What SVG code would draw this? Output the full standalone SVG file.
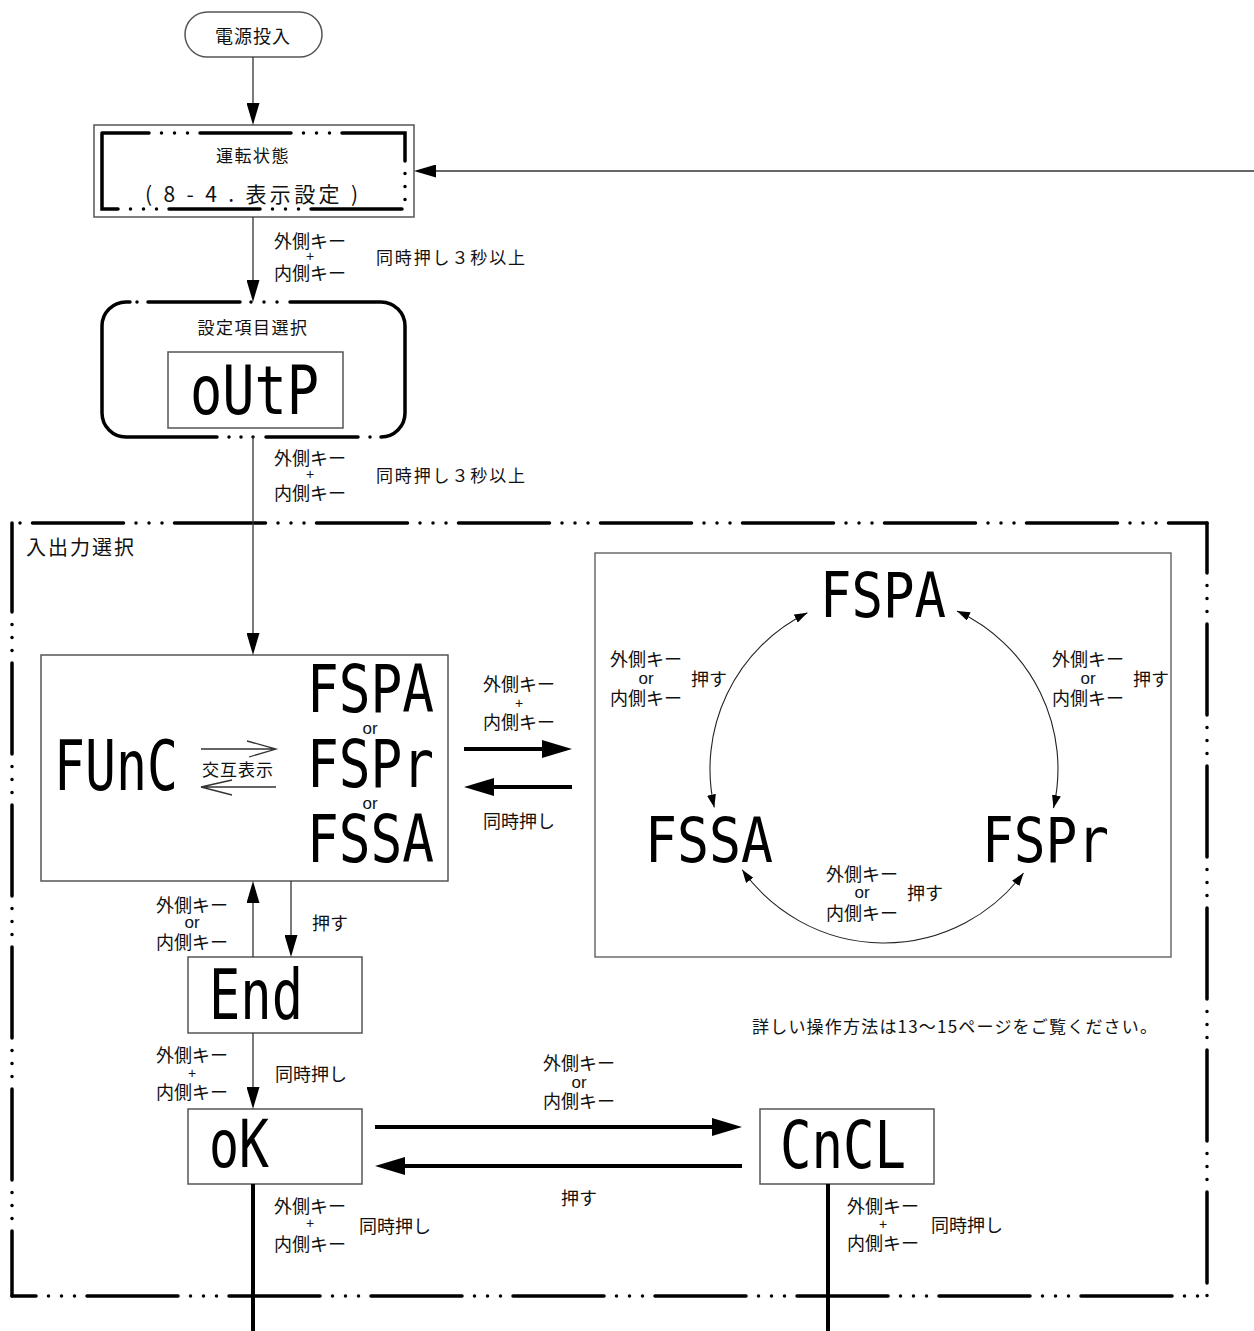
<svg xmlns="http://www.w3.org/2000/svg" width="1254" height="1331" viewBox="0 0 1254 1331">
<style>
text{font-family:"Noto Sans CJK JP","Noto Sans",sans-serif;fill:#111}
.lbl{font-size:18px;text-anchor:middle;dominant-baseline:central}
.pl{font-size:14px;text-anchor:middle;dominant-baseline:central;font-family:"Liberation Sans",sans-serif}
.or{font-size:17px;text-anchor:middle;dominant-baseline:central;font-family:"Liberation Sans",sans-serif}
.seg{font-family:"DejaVu Sans Mono",monospace;fill:#000}
.box{fill:#fff;stroke:#555;stroke-width:1.5}
.thin{fill:none;stroke:#333;stroke-width:1.3}
.thick{fill:none;stroke:#000;stroke-width:4}
.dd{fill:none;stroke:#000;stroke-width:3.5;stroke-linecap:round;stroke-dasharray:91 12.5 0 13 0 13 0 12.5}
.solid{fill:none;stroke:#000;stroke-width:3.5;stroke-linecap:round}
.arc{fill:none;stroke:#222;stroke-width:1.1;marker-start:url(#sa);marker-end:url(#sa)}
</style>
<defs>
<marker id="ta" markerUnits="userSpaceOnUse" viewBox="0 0 22 13" markerWidth="22" markerHeight="13" refX="0" refY="6.5" orient="auto"><path d="M0,0 L22,6.5 L0,13 Z" fill="#000"/></marker>
<marker id="ka" markerUnits="userSpaceOnUse" viewBox="0 0 30 18" markerWidth="30" markerHeight="18" refX="0" refY="9" orient="auto"><path d="M0,0 L30,9 L0,18 Z" fill="#000"/></marker>
<marker id="sa" markerUnits="userSpaceOnUse" viewBox="0 0 13 9" markerWidth="13" markerHeight="9" refX="13" refY="4.5" orient="auto-start-reverse"><path d="M0,0 L13,4.5 L0,9 Z" fill="#000"/></marker>
</defs>
<rect width="1254" height="1331" fill="#fff"/>

<g id="frame">
<path class="dd" d="M12,523 V1296" stroke-dashoffset="2"/>
<path class="dd" d="M12,523 H1207" stroke-dashoffset="121.5"/>
<path class="dd" d="M1207,523 V1296" stroke-dashoffset="41"/>
<path class="dd" d="M12,1296 H1207" stroke-dashoffset="67"/>
<text x="26" y="546" font-size="20" letter-spacing="2" dominant-baseline="central">入出力選択</text>
</g>

<g id="n-start">
<rect x="185" y="12" width="137" height="45" rx="22.5" class="box" stroke="#333"/>
<text x="253" y="35" font-size="18" letter-spacing="1" text-anchor="middle" dominant-baseline="central">電源投入</text>
</g>

<g id="n-run">
<rect x="94" y="125" width="320" height="92" class="box"/>
<path class="dd" d="M102,133 H405 V209 H102 Z" stroke-dashoffset="44"/>
<text x="253" y="154" font-size="17" letter-spacing="1.5" text-anchor="middle" dominant-baseline="central">運転状態</text>
<text x="145" y="193" font-size="21" textLength="213" dominant-baseline="central">( 8 - 4 . 表示設定 )</text>
</g>

<g id="n-select">
<path class="solid" d="M130,302 H126 A24,24 0 0 0 102,326 V413 A24,24 0 0 0 126,437 H217"/>
<path class="solid" d="M229,437 l0.01,0 M241,437 l0.01,0 M253,437 l0.01,0 M266,437 H358 M370,437 l0.01,0"/>
<path class="solid" d="M381,437 A24,24 0 0 0 405,413 V326 A24,24 0 0 0 381,302 H290"/>
<path class="solid" d="M277,302 l0.01,0 M264,302 l0.01,0 M251,302 l0.01,0 M240,302 H148 M137,302 l0.01,0"/>
<text x="253" y="326" font-size="17" letter-spacing="1.5" text-anchor="middle" dominant-baseline="central">設定項目選択</text>
<rect x="168" y="352" width="175" height="76" class="box" stroke-width="1.3"/>
<text class="seg" x="190" y="414" font-size="67" textLength="129" lengthAdjust="spacingAndGlyphs">oUtP</text>
</g>

<g id="n-func">
<rect x="41" y="655" width="407" height="226" class="box"/>
<text class="seg" x="54" y="790" font-size="70" textLength="124" lengthAdjust="spacingAndGlyphs">FUnC</text>
<path class="thin" d="M201,749 H276 M247,741 L276,749 L249,757 M201,787 H276 M232,780 L201,787 L232,795" stroke="#111"/>
<text x="238" y="768" font-size="17" letter-spacing="1" text-anchor="middle" dominant-baseline="central">交互表示</text>
<text class="seg" x="307" y="712" font-size="66" textLength="127" lengthAdjust="spacingAndGlyphs">FSPA</text>
<text class="or" x="370" y="728">or</text>
<text class="seg" x="307" y="787" font-size="66" textLength="127" lengthAdjust="spacingAndGlyphs">FSPr</text>
<text class="or" x="370" y="803">or</text>
<text class="seg" x="307" y="862" font-size="66" textLength="127" lengthAdjust="spacingAndGlyphs">FSSA</text>
</g>

<g id="n-cycle">
<rect x="595" y="553" width="576" height="404" fill="none" stroke="#555" stroke-width="1.3"/>
<text class="seg" x="820" y="617" font-size="62" textLength="126" lengthAdjust="spacingAndGlyphs">FSPA</text>
<text class="seg" x="645" y="862" font-size="62" textLength="128" lengthAdjust="spacingAndGlyphs">FSSA</text>
<text class="seg" x="982" y="862" font-size="62" textLength="127" lengthAdjust="spacingAndGlyphs">FSPr</text>
</g>

<g id="n-end">
<rect x="188" y="957" width="174" height="76" class="box"/>
<text class="seg" x="209" y="1019" font-size="70" textLength="94" lengthAdjust="spacingAndGlyphs">End</text>
</g>

<g id="n-ok">
<rect x="188" y="1109" width="174" height="75" class="box"/>
<text class="seg" x="209" y="1167" font-size="66" textLength="60" lengthAdjust="spacingAndGlyphs">oK</text>
</g>

<g id="n-cncl">
<rect x="760" y="1109" width="174" height="75" class="box"/>
<text class="seg" x="780" y="1168" font-size="66" textLength="126" lengthAdjust="spacingAndGlyphs">CnCL</text>
</g>

<g id="connectors">
<path class="thin" d="M253,57 V103" marker-end="url(#ta)"/>
<path class="thin" d="M253,217 V280" marker-end="url(#ta)"/>
<path class="thin" d="M253,437 V633" marker-end="url(#ta)"/>
<path class="thin" d="M1254,171 H436" marker-end="url(#ta)"/>
<path class="thin" d="M291,881 V935" marker-end="url(#ta)"/>
<path class="thin" d="M253,957 V903" marker-end="url(#ta)"/>
<path class="thin" d="M253,1033 V1087" marker-end="url(#ta)"/>
<path class="thick" d="M464,749 H542" marker-end="url(#ka)"/>
<path class="thick" d="M572,787 H494" marker-end="url(#ka)"/>
<path class="thick" d="M375,1127 H712" marker-end="url(#ka)"/>
<path class="thick" d="M742,1166 H405" marker-end="url(#ka)"/>
<path class="thick" d="M253,1184 V1331" stroke-width="3.5"/>
<path class="thick" d="M828,1184 V1331" stroke-width="3.5"/>
<path class="arc" d="M807.4,612.8 A174,174 0 0 0 714.3,807.5"/>
<path class="arc" d="M957,611 A174,174 0 0 1 1053.5,808.1"/>
<path class="arc" d="M742.2,869.8 A174,174 0 0 0 1023.5,873"/>
</g>

<g id="labels">
<text class="lbl" x="310" y="240">外側キー</text>
<text class="pl" x="310" y="256">+</text>
<text class="lbl" x="310" y="272">内側キー</text>
<text x="376" y="256" font-size="17" textLength="149" dominant-baseline="central">同時押し３秒以上</text>
<text class="lbl" x="310" y="457">外側キー</text>
<text class="pl" x="310" y="474">+</text>
<text class="lbl" x="310" y="492">内側キー</text>
<text x="376" y="474" font-size="17" textLength="149" dominant-baseline="central">同時押し３秒以上</text>
<text class="lbl" x="519" y="683">外側キー</text>
<text class="pl" x="519" y="703">+</text>
<text class="lbl" x="519" y="721">内側キー</text>
<text class="lbl" x="519" y="820">同時押し</text>
<text class="lbl" x="646" y="658">外側キー</text>
<text class="or" x="646" y="678">or</text>
<text class="lbl" x="646" y="697">内側キー</text>
<text class="lbl" x="709" y="678">押す</text>
<text class="lbl" x="1088" y="658">外側キー</text>
<text class="or" x="1088" y="678">or</text>
<text class="lbl" x="1088" y="697">内側キー</text>
<text class="lbl" x="1151" y="678">押す</text>
<text class="lbl" x="862" y="873">外側キー</text>
<text class="or" x="862" y="892">or</text>
<text class="lbl" x="862" y="912">内側キー</text>
<text class="lbl" x="925" y="892">押す</text>
<text class="lbl" x="192" y="904">外側キー</text>
<text class="or" x="192" y="922">or</text>
<text class="lbl" x="192" y="941">内側キー</text>
<text class="lbl" x="330" y="922">押す</text>
<text class="lbl" x="192" y="1054">外側キー</text>
<text class="pl" x="192" y="1073">+</text>
<text class="lbl" x="192" y="1091">内側キー</text>
<text class="lbl" x="311" y="1073">同時押し</text>
<text class="lbl" x="310" y="1205">外側キー</text>
<text class="pl" x="310" y="1223">+</text>
<text class="lbl" x="310" y="1243">内側キー</text>
<text class="lbl" x="395" y="1225">同時押し</text>
<text class="lbl" x="579" y="1062">外側キー</text>
<text class="or" x="579" y="1082">or</text>
<text class="lbl" x="579" y="1100">内側キー</text>
<text class="lbl" x="579" y="1197">押す</text>
<text class="lbl" x="883" y="1205">外側キー</text>
<text class="pl" x="883" y="1224">+</text>
<text class="lbl" x="883" y="1242">内側キー</text>
<text class="lbl" x="967" y="1224">同時押し</text>
<text x="752" y="1025" font-size="17" textLength="405" dominant-baseline="central">詳しい操作方法は13～15ページをご覧ください。</text>
</g>
</svg>
